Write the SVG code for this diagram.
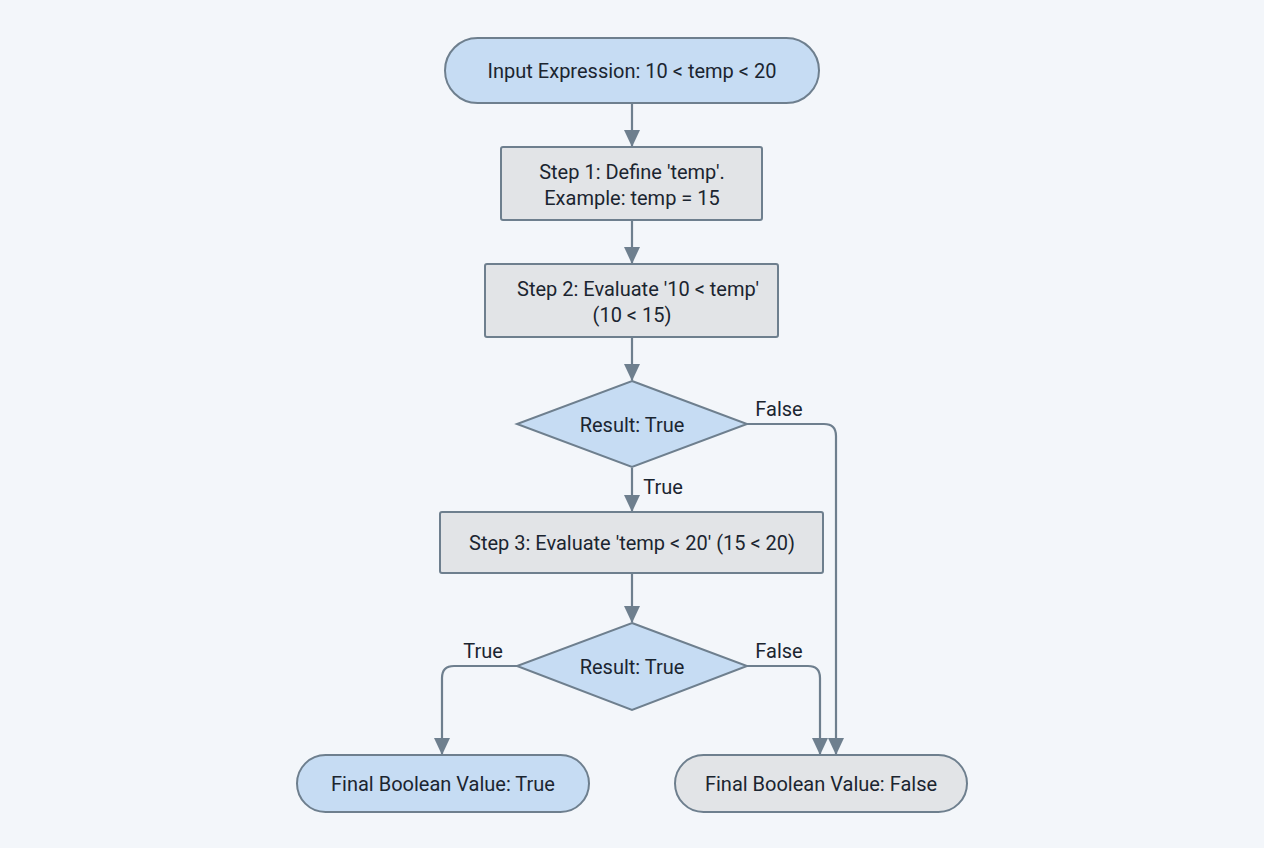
<svg xmlns="http://www.w3.org/2000/svg" width="1264" height="848" viewBox="0 0 1264 848">
<style>
.b{fill:#c6dcf3;stroke:#6e7f8e;stroke-width:2}
.g{fill:#e2e4e7;stroke:#6e7f8e;stroke-width:2}
text{font-family:Roboto,"Liberation Sans",sans-serif;font-size:20px;fill:#1b2530;text-anchor:middle}
.c{fill:none;stroke:#6e7f8e;stroke-width:2.2;marker-end:url(#a)}
</style>
<defs><marker id="a" markerWidth="18" markerHeight="16" refX="16" refY="8" orient="auto" markerUnits="userSpaceOnUse"><path d="M0,0L17,8L0,16z" fill="#6e7f8e"/></marker></defs>
<rect width="1264" height="848" fill="#f3f6fa"/>
<g id="connectors">
<path class="c" d="M632,104V146"/>
<path class="c" d="M632,221V263"/>
<path class="c" d="M632,338V380"/>
<path class="c" d="M632,468V511"/>
<path class="c" d="M632,574V622"/>
<path class="c" d="M747,424H824Q836,424 836,436V754"/>
<path class="c" d="M747,666H808Q820,666 820,678V754"/>
<path class="c" d="M517,666H454Q442,666 442,678V754"/>
<text x="779" y="416">False</text>
<text x="663" y="494">True</text>
<text x="483" y="658">True</text>
<text x="779" y="658">False</text>
</g>
<g id="n1"><rect class="b" x="445" y="38" width="374" height="65" rx="32.5"/><text x="632" y="78">Input Expression: 10 &lt; temp &lt; 20</text></g>
<g id="n2"><rect class="g" x="501" y="147" width="261" height="73" rx="2"/><text x="632" y="179">Step 1: Define 'temp'.</text><text x="632" y="205">Example: temp = 15</text></g>
<g id="n3"><rect class="g" x="485" y="264" width="293" height="73" rx="2"/><text x="638" y="296">Step 2: Evaluate '10 &lt; temp'</text><text x="632" y="322">(10 &lt; 15)</text></g>
<g id="n4"><polygon class="b" points="632,381 747,424 632,467 517,424"/><text x="632" y="432">Result: True</text></g>
<g id="n5"><rect class="g" x="440" y="512" width="383" height="61" rx="2"/><text x="632" y="550">Step 3: Evaluate 'temp &lt; 20' (15 &lt; 20)</text></g>
<g id="n6"><polygon class="b" points="632,623 747,666 632,710 517,666"/><text x="632" y="674">Result: True</text></g>
<g id="n7"><rect class="b" x="297" y="755" width="292" height="57" rx="28.5"/><text x="443" y="791">Final Boolean Value: True</text></g>
<g id="n8"><rect class="g" x="675" y="755" width="292" height="57" rx="28.5"/><text x="821" y="791">Final Boolean Value: False</text></g>
</svg>
